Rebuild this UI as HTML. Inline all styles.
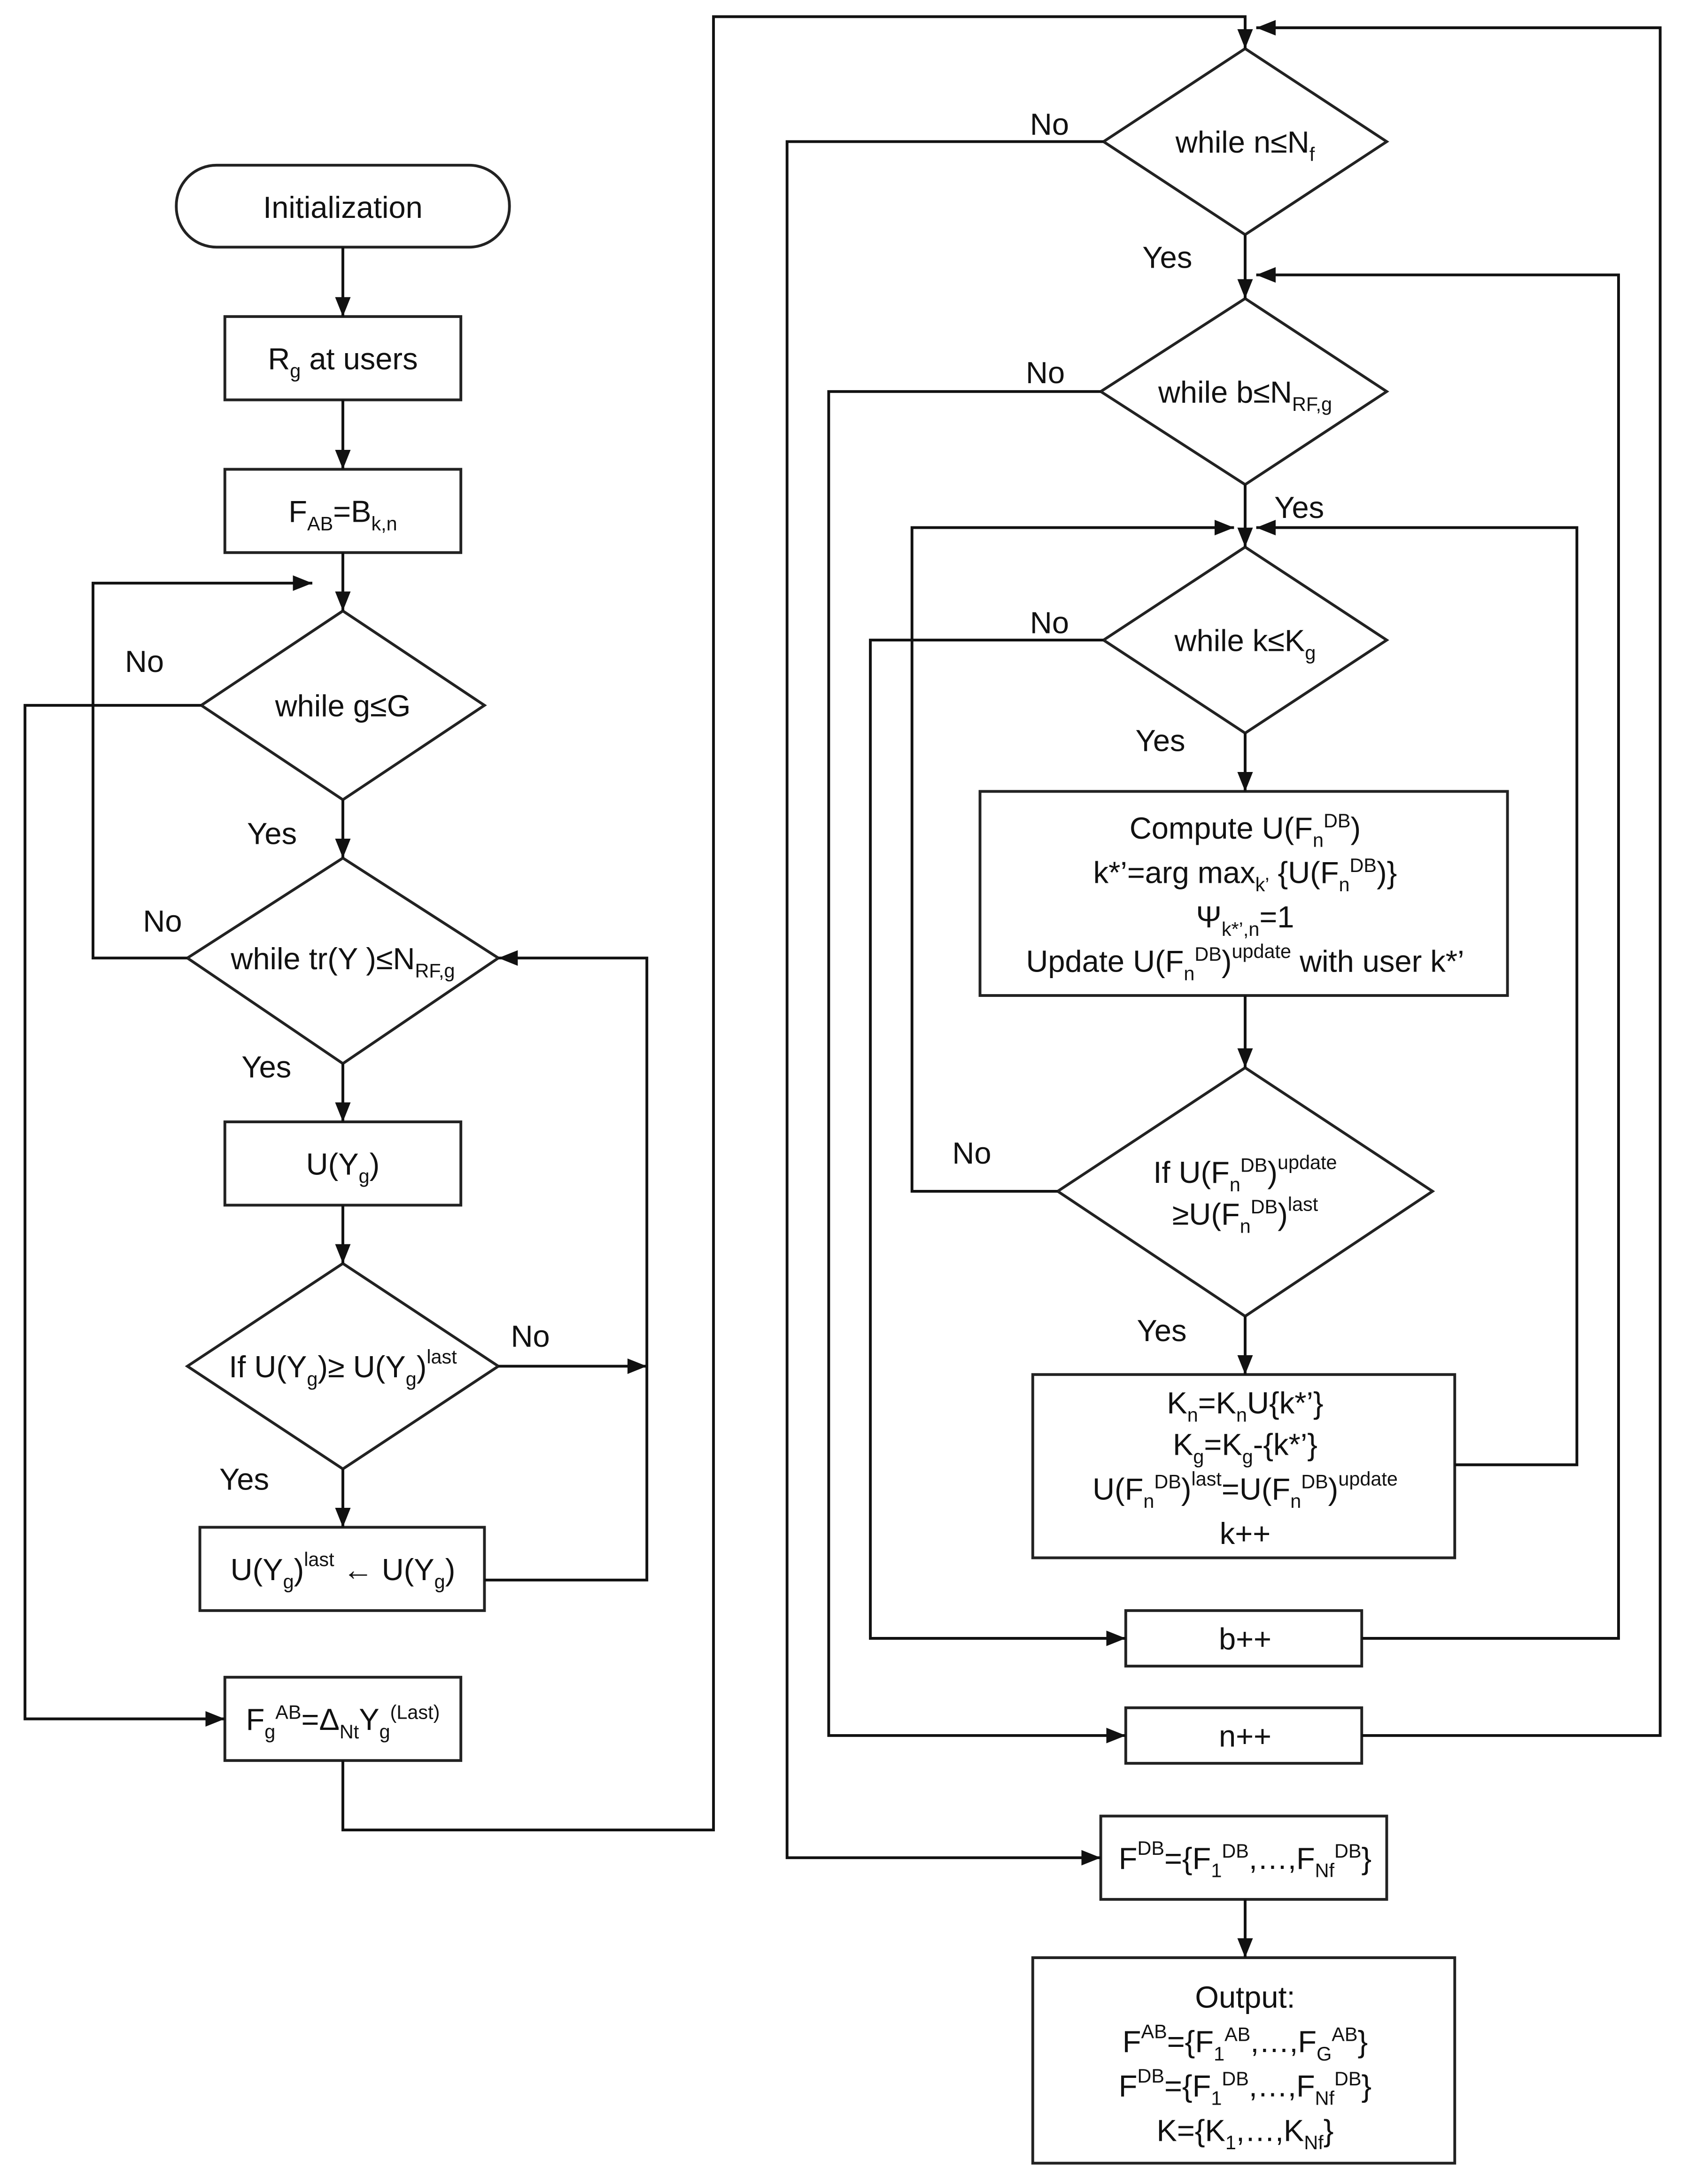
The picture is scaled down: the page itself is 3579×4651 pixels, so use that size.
<!DOCTYPE html>
<html><head><meta charset="utf-8"><style>
html,body{margin:0;padding:0;background:#fff;}
svg{display:block;}
text{font-family:"Liberation Sans",sans-serif;font-size:22px;fill:#111;}
.s{font-size:14px;}
</style></head><body>
<svg width="3579" height="4651" viewBox="0 0 1211 1573" preserveAspectRatio="none" xmlns="http://www.w3.org/2000/svg">
<defs><marker id="a" viewBox="0 0 10 10" refX="10" refY="5" markerWidth="7" markerHeight="7" orient="auto" markerUnits="userSpaceOnUse"><path d="M0,0 L10,5 L0,10 z" fill="#111"/></marker>
<marker id="b" viewBox="0 0 10 10" refX="10" refY="5" markerWidth="14" markerHeight="14" orient="auto" markerUnits="userSpaceOnUse"><path d="M0,1 L10,5 L0,9 z" fill="#111"/></marker></defs>
<g fill="none" stroke="#222" stroke-width="2">
<rect x="127" y="119" width="240" height="59" rx="29"/>
<rect x="162" y="228" width="170" height="60"/>
<rect x="162" y="338" width="170" height="60"/>
<polygon points="247,440 349,508 247,576 145,508"/>
<polygon points="247,618 359,690 247,766 135,690"/>
<rect x="162" y="808" width="170" height="60"/>
<polygon points="247,910 359,984 247,1058 135,984"/>
<rect x="144" y="1100" width="205" height="60"/>
<rect x="162" y="1208" width="170" height="60"/>
<polygon points="897,35 999,102 897,169 795,102"/>
<polygon points="897,215 999,282 897,349 793,282"/>
<polygon points="897,394 999,461 897,528 795,461"/>
<rect x="706" y="570" width="380" height="147"/>
<polygon points="897,769 1032,858 897,948 762,858"/>
<rect x="744" y="990" width="304" height="132"/>
<rect x="811" y="1160" width="170" height="40"/>
<rect x="811" y="1230" width="170" height="40"/>
<rect x="793" y="1308" width="206" height="60"/>
<rect x="744" y="1410" width="304" height="148"/>
</g>
<g fill="none" stroke="#111" stroke-width="2" marker-end="url(#b)">
<line x1="247" y1="178" x2="247" y2="228"/>
<line x1="247" y1="288" x2="247" y2="338"/>
<line x1="247" y1="398" x2="247" y2="440"/>
<polyline points="135,690 67,690 67,420 225,420"/>
<line x1="247" y1="576" x2="247" y2="618"/>
<polyline points="145,508 18,508 18,1238 162,1238"/>
<line x1="247" y1="766" x2="247" y2="808"/>
<line x1="247" y1="868" x2="247" y2="910"/>
<line x1="359" y1="984" x2="466" y2="984"/>
<line x1="247" y1="1058" x2="247" y2="1100"/>
<polyline points="349,1138 466,1138 466,690 359,690"/>
<polyline points="247,1268 247,1318 514,1318 514,12 897,12 897,35"/>
<polyline points="981,1250 1196,1250 1196,20 905,20"/>
<polyline points="795,102 567,102 567,1338 793,1338"/>
<line x1="897" y1="169" x2="897" y2="215"/>
<polyline points="981,1180 1166,1180 1166,198 905,198"/>
<polyline points="793,282 597,282 597,1250 811,1250"/>
<line x1="897" y1="349" x2="897" y2="394"/>
<polyline points="762,858 657,858 657,380 889,380"/>
<polyline points="1048,1055 1136,1055 1136,380 905,380"/>
<polyline points="795,461 627,461 627,1180 811,1180"/>
<line x1="897" y1="528" x2="897" y2="570"/>
<line x1="897" y1="717" x2="897" y2="769"/>
<line x1="897" y1="948" x2="897" y2="990"/>
<line x1="897" y1="1368" x2="897" y2="1410"/>
</g>
<g text-anchor="middle">
<text x="247" y="157">Initialization</text>
<text x="247" y="266">R<tspan class="s" dy="6">g</tspan><tspan dy="-6"> at users</tspan></text>
<text x="247" y="376">F<tspan class="s" dy="6">AB</tspan><tspan dy="-6">=B</tspan><tspan class="s" dy="6">k,n</tspan></text>
<text x="247" y="516">while g≤G</text>
<text x="247" y="698">while tr(Y )≤N<tspan class="s" dy="6">RF,g</tspan></text>
<text x="247" y="846">U(Y<tspan class="s" dy="6">g</tspan><tspan dy="-6">)</tspan></text>
<text x="247" y="992">If U(Y<tspan class="s" dy="6">g</tspan><tspan dy="-6">)≥ U(Y</tspan><tspan class="s" dy="6">g</tspan><tspan dy="-6">)</tspan><tspan class="s" dy="-10">last</tspan></text>
<text x="247" y="1138">U(Y<tspan class="s" dy="6">g</tspan><tspan dy="-6">)</tspan><tspan class="s" dy="-10">last</tspan><tspan dy="10"> ← U(Y</tspan><tspan class="s" dy="6">g</tspan><tspan dy="-6">)</tspan></text>
<text x="247" y="1246">F<tspan class="s" dy="6">g</tspan><tspan class="s" dy="-14">AB</tspan><tspan dy="8">=Δ</tspan><tspan class="s" dy="6">Nt</tspan><tspan dy="-6">Y</tspan><tspan class="s" dy="6">g</tspan><tspan class="s" dy="-14">(Last)</tspan></text>
<text x="897" y="110">while n≤N<tspan class="s" dy="6">f</tspan></text>
<text x="897" y="290">while b≤N<tspan class="s" dy="6">RF,g</tspan></text>
<text x="897" y="469">while k≤K<tspan class="s" dy="6">g</tspan></text>
<text x="897" y="604">Compute U(F<tspan class="s" dy="6">n</tspan><tspan class="s" dy="-14">DB</tspan><tspan dy="8">)</tspan></text>
<text x="897" y="636">k*’=arg max<tspan class="s" dy="6">k’</tspan><tspan dy="-6"> {U(F</tspan><tspan class="s" dy="6">n</tspan><tspan class="s" dy="-14">DB</tspan><tspan dy="8">)}</tspan></text>
<text x="897" y="668">Ψ<tspan class="s" dy="6">k*’,n</tspan><tspan dy="-6">=1</tspan></text>
<text x="897" y="700">Update U(F<tspan class="s" dy="6">n</tspan><tspan class="s" dy="-14">DB</tspan><tspan dy="8">)</tspan><tspan class="s" dy="-10">update</tspan><tspan dy="10"> with user k*’</tspan></text>
<text x="897" y="852">If U(F<tspan class="s" dy="6">n</tspan><tspan class="s" dy="-14">DB</tspan><tspan dy="8">)</tspan><tspan class="s" dy="-10">update</tspan></text>
<text x="897" y="882">≥U(F<tspan class="s" dy="6">n</tspan><tspan class="s" dy="-14">DB</tspan><tspan dy="8">)</tspan><tspan class="s" dy="-10">last</tspan></text>
<text x="897" y="1018">K<tspan class="s" dy="6">n</tspan><tspan dy="-6">=K</tspan><tspan class="s" dy="6">n</tspan><tspan dy="-6">U{k*’}</tspan></text>
<text x="897" y="1048">K<tspan class="s" dy="6">g</tspan><tspan dy="-6">=K</tspan><tspan class="s" dy="6">g</tspan><tspan dy="-6">-{k*’}</tspan></text>
<text x="897" y="1080">U(F<tspan class="s" dy="6">n</tspan><tspan class="s" dy="-14">DB</tspan><tspan dy="8">)</tspan><tspan class="s" dy="-10">last</tspan><tspan dy="10">=U(F</tspan><tspan class="s" dy="6">n</tspan><tspan class="s" dy="-14">DB</tspan><tspan dy="8">)</tspan><tspan class="s" dy="-10">update</tspan></text>
<text x="897" y="1112">k++</text>
<text x="897" y="1188">b++</text>
<text x="897" y="1258">n++</text>
<text x="897" y="1346">F<tspan class="s" dy="-10">DB</tspan><tspan dy="10">={F</tspan><tspan class="s" dy="6">1</tspan><tspan class="s" dy="-14">DB</tspan><tspan dy="8">,…,F</tspan><tspan class="s" dy="6">Nf</tspan><tspan class="s" dy="-14">DB</tspan><tspan dy="8">}</tspan></text>
<text x="897" y="1446">Output:</text>
<text x="897" y="1478">F<tspan class="s" dy="-10">AB</tspan><tspan dy="10">={F</tspan><tspan class="s" dy="6">1</tspan><tspan class="s" dy="-14">AB</tspan><tspan dy="8">,…,F</tspan><tspan class="s" dy="6">G</tspan><tspan class="s" dy="-14">AB</tspan><tspan dy="8">}</tspan></text>
<text x="897" y="1510">F<tspan class="s" dy="-10">DB</tspan><tspan dy="10">={F</tspan><tspan class="s" dy="6">1</tspan><tspan class="s" dy="-14">DB</tspan><tspan dy="8">,…,F</tspan><tspan class="s" dy="6">Nf</tspan><tspan class="s" dy="-14">DB</tspan><tspan dy="8">}</tspan></text>
<text x="897" y="1542">K={K<tspan class="s" dy="6">1</tspan><tspan dy="-6">,…,K</tspan><tspan class="s" dy="6">Nf</tspan><tspan dy="-6">}</tspan></text>
</g>
<g>
<text x="90" y="484">No</text>
<text x="178" y="608">Yes</text>
<text x="103" y="671">No</text>
<text x="174" y="776">Yes</text>
<text x="368" y="970">No</text>
<text x="158" y="1073">Yes</text>
<text x="742" y="97">No</text>
<text x="823" y="193">Yes</text>
<text x="739" y="276">No</text>
<text x="918" y="373">Yes</text>
<text x="742" y="456">No</text>
<text x="818" y="541">Yes</text>
<text x="686" y="838">No</text>
<text x="819" y="966">Yes</text>
</g>
</svg>
</body></html>
